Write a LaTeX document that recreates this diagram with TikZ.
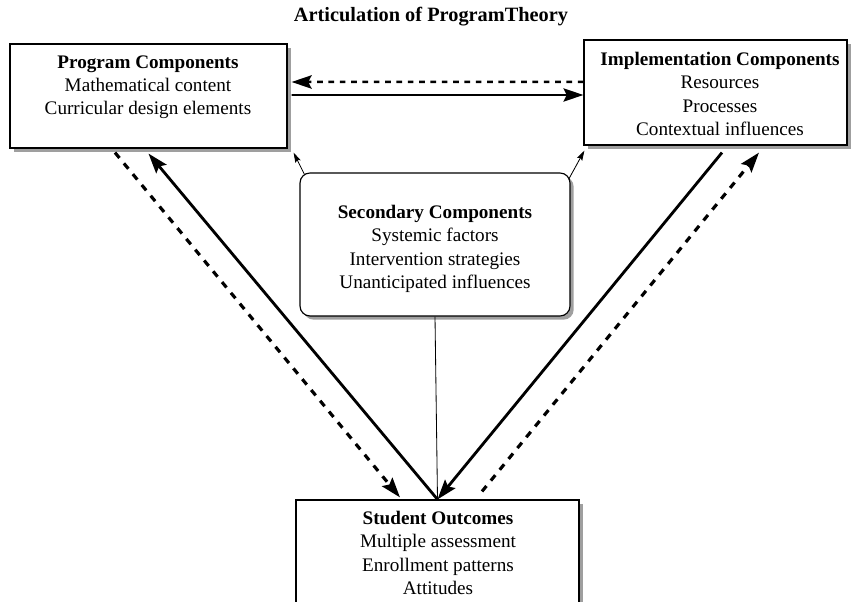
\documentclass[tikz,border=0pt]{standalone}
\usepackage{fontspec}
\setmainfont{Liberation Serif}
\usetikzlibrary{arrows.meta,shadows}

\begin{document}
\begin{tikzpicture}[x=0.6pt,y=-0.6pt,
  box/.style={draw,line width=0.7pt,fill=white,inner sep=0pt,
    drop shadow={shadow xshift=2.2pt,shadow yshift=-2.2pt,fill=gray!75,opacity=1}},
  boxtext/.style={align=center,inner sep=0pt,anchor=north,font=\fontsize{11.5}{14}\selectfont},
  mainarrow/.style={line width=1.7pt,-{Stealth[length=12pt,width=8pt,inset=2pt]}},
  backarrow/.style={mainarrow,line width=1.9pt,dash pattern=on 4.2pt off 4.2pt},
  thinarrow/.style={line width=0.5pt,-{Stealth[length=6pt,width=3.5pt,inset=1pt]}}]
\useasboundingbox (0,0) rectangle (855,602);
\clip (0,0) rectangle (855,602);
% title
\node[font=\fontsize{12.2}{14}\selectfont\bfseries] (title) at (431,17) {Articulation of ProgramTheory};
% the four boxes
\node[box,minimum width=166.2pt,minimum height=62.4pt] (prog) at (148.5,96) {};
\node[box,minimum width=157.8pt,minimum height=63pt] (impl) at (715.5,92.5) {};
\node[box,rounded corners=6pt,minimum width=162pt,minimum height=85.8pt] (sec) at (435,244.5) {};
\node[box,minimum width=169.8pt,minimum height=78pt] (stud) at (437.5,565) {};
% box texts
\node[boxtext] (progtxt) at (148,55) {\textbf{Program Components}\\Mathematical content\\Curricular design elements};
\node[boxtext] (impltxt) at (720,52) {\textbf{Implementation Components}\\Resources\\Processes\\Contextual influences};
\node[boxtext] (sectxt) at (435,205) {\textbf{Secondary Components}\\Systemic factors\\Intervention strategies\\Unanticipated influences};
\node[boxtext] (studtxt) at (438,511) {\textbf{Student Outcomes}\\Multiple assessment\\Enrollment patterns\\Attitudes};
% top pair of arrows
\draw[backarrow,line width=1.5pt,dash pattern=on 3.4pt off 3.4pt] ([yshift=6.3pt]impl.west) -- ([xshift=2.4pt,yshift=8.4pt]prog.east);
\draw[mainarrow,line width=1.1pt] ([xshift=2.4pt,yshift=0.6pt]prog.east) -- ([yshift=-1.5pt]impl.west);
% left side
\draw[backarrow] ([xshift=-20.1pt,yshift=-2.4pt]prog.south) -- ([xshift=-22.5pt,yshift=1.2pt]stud.north);
\draw[mainarrow] (stud.north) -- ([yshift=-3pt]prog.south);
% right side
\draw[mainarrow] ([xshift=3.9pt,yshift=-4.2pt]impl.south) -- (stud.north);
\draw[backarrow] ([xshift=26.7pt,yshift=4.8pt]stud.north) -- ([xshift=26.1pt,yshift=-4.2pt]impl.south);
% secondary components
\draw[thinarrow] ([xshift=3pt,yshift=-1.2pt]sec.north west) -- ([xshift=3.6pt,yshift=-2.4pt]prog.south east);
\draw[thinarrow] ([xshift=-1.2pt,yshift=-4.2pt]sec.north east) -- ([xshift=0.6pt,yshift=-3pt]impl.south west);
\draw[line width=0.5pt] (sec.south) -- (stud.north);
\end{tikzpicture}
\end{document}
